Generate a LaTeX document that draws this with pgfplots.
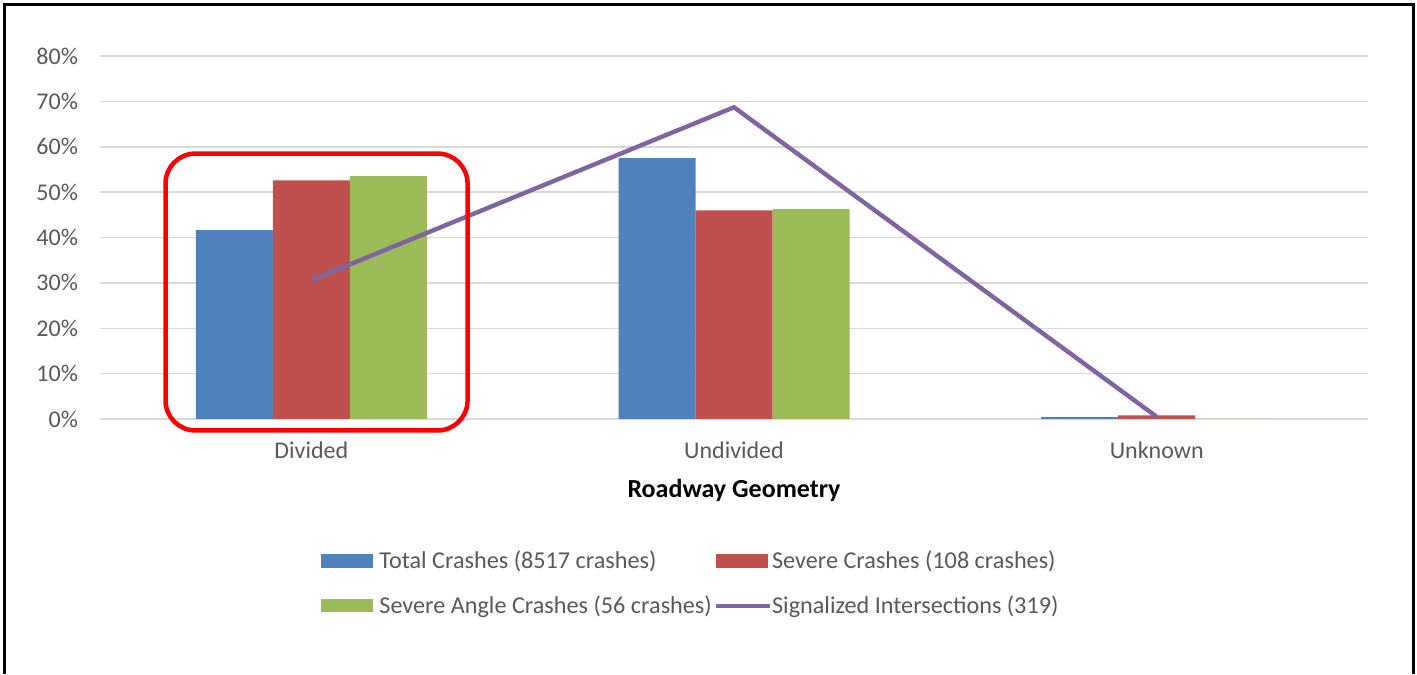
\documentclass[border=0pt]{standalone}
\usepackage{fontspec}
\setmainfont{Carlito}
\usepackage{pgfplots}
\pgfplotsset{compat=1.18}
\definecolor{cblue}{HTML}{4F81BD}
\definecolor{cred}{HTML}{C0504D}
\definecolor{cgreen}{HTML}{9BBB59}
\definecolor{cpurple}{HTML}{8064A2}
\definecolor{tgray}{HTML}{595959}
\definecolor{ggray}{HTML}{D9D9D9}
\begin{document}
\begin{tikzpicture}
\useasboundingbox (0,0) rectangle (708.5pt,337pt);
\fill[white] (0,0) rectangle (708.5pt,337pt);
\draw[black, line width=1.6pt] (2.25pt,0pt) -- (2.25pt,334.75pt) -- (706.75pt,334.75pt) -- (706.75pt,0pt);
\begin{axis}[
  at={(50pt,127.5pt)}, anchor=south west,
  scale only axis, width=634pt, height=181.5pt,
  xmin=-0.5, xmax=2.5, ymin=0, ymax=80,
  axis line style={draw=none},
  major tick length=0pt,
  xtick={0,1,2}, xticklabels={Divided,Undivided,Unknown},
  ytick={0,10,...,80},
  yticklabel={\pgfmathprintnumber{\tick}\%},
  /pgf/number format/assume math mode=true,
  ymajorgrids, grid style={ggray, line width=0.75pt},
  tick label style={font=\fontsize{12}{14}\selectfont, text=tgray},
  xticklabel style={yshift=-8pt},
  yticklabel style={xshift=-7.5pt},
  xlabel={Roadway Geometry},
  xlabel style={at={(axis description cs:0.5,-0.1956)}, anchor=center, font=\fontsize{13}{15}\selectfont\bfseries, text=black},
  clip=false,
  legend columns=2,
  legend style={at={(axis description cs:0.1743,-0.3535)}, anchor=north west, draw=none, fill=none, inner sep=0pt,
    font=\fontsize{12.1}{14}\selectfont, text=tgray, row sep=9pt,
    nodes={inner sep=1.5pt},
    /tikz/column 1/.style={column sep=1.5pt},
    /tikz/column 2/.style={column sep=-0.5pt},
    /tikz/column 3/.style={column sep=-1.5pt}},
  legend cell align=left,
]
\addplot[ybar, bar width=38.5pt, bar shift=-38.5pt, fill=cblue, draw=none,
  legend image code/.code={\fill[cblue] (0pt,-3.3pt) rectangle (26pt,3.3pt);}]
  coordinates {(0,41.6) (1,57.5) (2,0.4)};
\addlegendentry{Total Crashes (8517 crashes)}
\addplot[ybar, bar width=38.5pt, bar shift=0pt, fill=cred, draw=none,
  legend image code/.code={\fill[cred] (0pt,-3.3pt) rectangle (26pt,3.3pt);}]
  coordinates {(0,52.6) (1,46.0) (2,0.8)};
\addlegendentry{Severe Crashes (108 crashes)}
\addplot[ybar, bar width=38.5pt, bar shift=38.5pt, fill=cgreen, draw=none,
  legend image code/.code={\fill[cgreen] (0pt,-3.3pt) rectangle (26pt,3.3pt);}]
  coordinates {(0,53.5) (1,46.3) (2,0)};
\addlegendentry{Severe Angle Crashes (56 crashes)}
\addplot[sharp plot, cpurple, line width=2.2pt, mark=none,
  legend image code/.code={\draw[cpurple, line width=2.2pt] (0pt,0pt) -- (27pt,0pt);}]
  coordinates {(0,30.6) (1,68.7) (2,0.5)};
\addlegendentry{Signalized Intersections (319)}
\draw[red, line width=2.25pt, rounded corners=15pt]
  (axis cs:-0.345,-2.53) rectangle (axis cs:0.3696,58.5);
\end{axis}
\end{tikzpicture}
\end{document}
